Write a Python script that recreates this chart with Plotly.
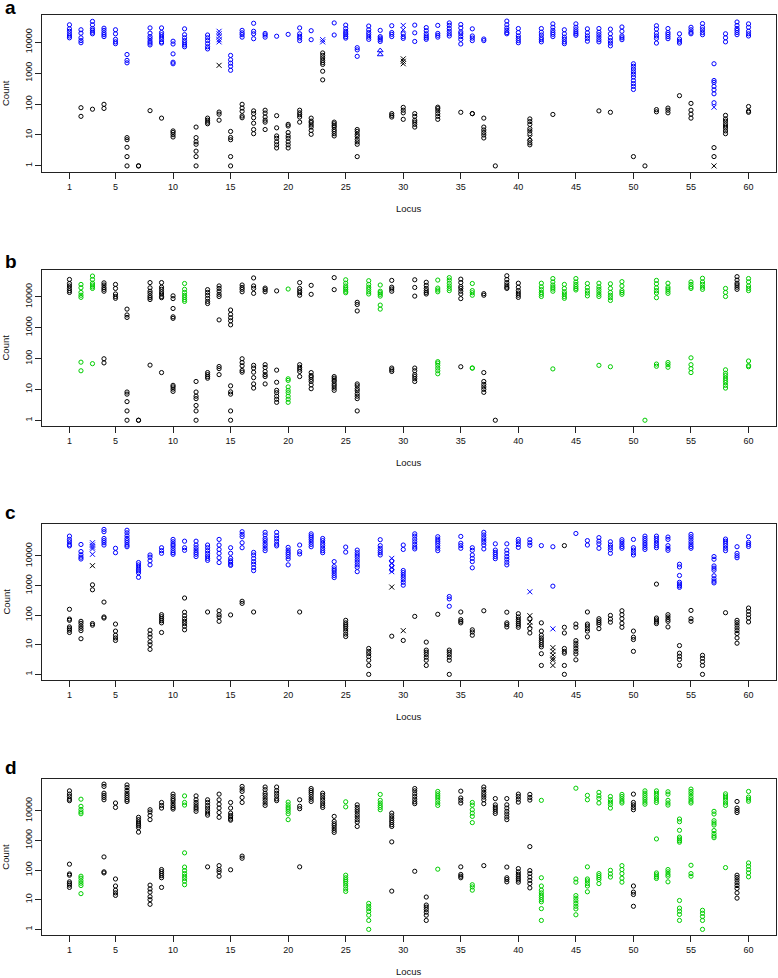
import plotly.graph_objects as go

W, H = 778, 978
BLUE = "#0000FF"
GREEN = "#00CD00"
BLACK = "#000000"
FONT = "Liberation Sans, Arial, Helvetica, sans-serif"

locus_ticks = [1, 5, 10, 15, 20, 25, 30, 35, 40, 45, 50, 55, 60]
count_ticks = [1, 10, 100, 1000, 10000]
count_tick_labels = ["1", "10", "100", "1000", "10000"]
panel_letters = ["a", "b", "c", "d"]

# ---------------- panel a ----------------
a_blue_circle = {
    1: [36300, 26900, 22400, 18600, 15800, 13800],
    2: [25100, 19500, 13800, 11200, 9550],
    3: [46800, 36300, 27500, 24000, 20900, 18600],
    4: [28200, 24000, 20000, 17400, 15100],
    5: [25100, 18600, 12300, 10200, 8910],
    6: [3980, 2570, 2140],
    8: [28800, 19500, 15100, 12900, 10700, 9330, 8130],
    9: [28800, 20400, 17400, 14500, 12300, 10200, 9330],
    10: [10700, 8710, 4170, 2240, 2000],
    11: [26900, 17400, 13800, 11200, 9550, 8130, 7080],
    13: [17000, 13800, 11200, 8910, 7080, 6030],
    15: [3720, 2690, 2090, 1660, 1230],
    16: [24000, 20000, 17400, 14500],
    17: [40700, 22400, 18600, 12900],
    18: [19100, 17000, 14500],
    19: [15500],
    20: [17800],
    21: [28800, 18600, 15500, 13500, 11200],
    22: [23400, 12000],
    24: [41700, 17000],
    25: [35500, 27500, 22400, 19500, 17400, 15100, 13500],
    26: [6610, 5620, 3470],
    27: [33100, 25100, 20400, 17400, 14500, 12300],
    28: [24000, 15100, 13500, 12000, 10500],
    29: [33900, 20400, 17800, 15100],
    30: [18600, 15100, 13200],
    31: [35500, 20000, 10500],
    32: [29500, 23400, 18600, 15800, 13800, 12300],
    33: [34700, 19100, 16600, 14500],
    34: [41700, 34700, 27500, 22400, 18600, 15800],
    35: [37200, 28800, 21400, 18600, 15100, 12300, 8710],
    36: [26900, 15800, 13500, 11200],
    37: [12600, 11200],
    39: [47900, 36300, 28800, 24000, 20400, 18600],
    40: [27500, 20400, 15800, 13200, 11200, 9550],
    42: [27500, 20900, 17000, 13800, 12000, 10200],
    43: [38900, 30200, 24000, 20400, 17800, 15100],
    44: [25100, 18600, 14500, 12300, 10200, 8910],
    45: [38900, 30200, 25100, 21400, 18600, 16600],
    46: [26900, 20000, 15800, 13200, 10700],
    47: [27500, 20900, 17400, 14500, 12000, 10200],
    48: [26300, 18600, 13800, 11200, 9330, 7590],
    49: [30900, 22400, 15800, 13800, 12000],
    50: [2000, 1660, 1350, 1100, 912, 741, 575, 457, 372, 295],
    52: [33900, 26300, 19500, 15800, 13200, 9330],
    53: [27500, 20400, 17800, 15100, 12900],
    54: [18600, 12600, 10700, 9330],
    55: [30200, 25100, 20900, 18600],
    56: [39800, 30200, 25100, 20400, 17400],
    57: [2000, 575, 501, 372, 288, 214, 110],
    58: [18600, 13800, 10200],
    59: [44700, 34700, 27500, 24000, 20400, 17400],
    60: [38900, 30200, 22400, 18600, 15800],
}
a_blue_x = {14: [22400, 18600, 15100, 12000, 10200], 23: [12000, 10200],
            30: [34700, 25100], 57: [79]}
a_blue_triangle = {28: [5370, 3980]}
a_black_circle = {
    2: [76, 40], 3: [68], 4: [98, 72], 6: [8.2, 7, 4, 2, 1], 7: [1, 1], 8: [61], 9: [35],
    10: [13.5, 12, 10.2, 8.6], 12: [18, 8.2, 6, 5, 3, 2, 1], 13: [35, 30, 26, 23],
    14: [55, 47, 30], 15: [13, 8.3, 7, 2, 1], 16: [98, 74, 58, 41, 36],
    17: [60, 49, 36, 24, 15, 11], 18: [63, 51, 38, 30, 26, 15],
    19: [42, 17, 9.3, 7.8, 6, 4.8, 3.8], 20: [22, 19.5, 12, 9.3, 7.8, 6, 4.8, 3.8],
    21: [63, 52, 45, 38, 26], 22: [35, 28, 25, 21, 18, 14, 10.5],
    23: [4470, 3720, 3090, 2570, 2190, 1910, 1150, 603],
    24: [26, 23, 20, 18, 15, 13, 11, 9.3], 26: [15, 13, 10.5, 9, 7.2, 6, 5, 2],
    29: [49, 43, 38], 30: [78, 63, 52, 32], 31: [49, 40, 30, 26, 22, 18],
    33: [79, 71, 60, 49, 40, 32], 35: [54], 36: [49, 49], 37: [35, 18, 14.5, 12, 10, 8],
    38: [1], 41: [33, 27, 22, 16, 13.5, 11, 6.8, 5.6, 4.8], 43: [46], 47: [60], 48: [54],
    50: [2], 51: [1], 52: [66, 56], 53: [74, 63, 52], 54: [186], 55: [105, 63, 47, 35],
    57: [3.9, 2], 58: [43, 33, 28, 23, 19.5, 16.6, 13.5, 11], 60: [83, 59, 54],
}
a_black_x = {14: [1780], 30: [2880, 2400, 2000], 41: [8], 57: [1]}

# ---------------- panel b (same samples as a, recoloured) ----------------
b_green_loci = [2, 3, 11, 20, 25, 27, 28, 33, 34, 36, 42, 43, 44, 45, 46, 47, 48, 49,
                51, 52, 53, 55, 56, 58, 60]
b_omitted_loci = [23, 30, 41, 50, 54, 57]

# ---------------- panel c ----------------
c_blue_circle = {
    1: [46800, 36300, 30200, 24500, 21900],
    2: [24500, 14100, 11000, 9100, 7900],
    4: [79000, 66000, 39000, 33000, 28000, 23400],
    5: [18200, 12900],
    6: [74000, 60500, 48200, 39000, 33000, 28000, 23400, 20500],
    7: [6000, 5000, 4150, 3550, 3150, 2700, 1900],
    8: [10800, 9100, 6900, 5000],
    9: [19000, 15100, 12300],
    10: [36300, 30200, 25100, 21900, 18200, 15100, 12900, 11400],
    11: [31600, 19000, 15500],
    12: [31600, 23400, 19000, 15800, 13200, 11400, 9550],
    13: [23400, 19000, 15100, 12300, 10000, 8300, 7100],
    14: [36300, 23400, 16600, 12300, 8700, 6000],
    15: [19000, 12300, 8300, 6900, 6150, 5250, 4800],
    16: [66000, 53700, 44700, 28000, 19000],
    17: [13200, 10800, 8300, 6450, 5250, 4050, 3200],
    18: [63000, 51300, 39000, 33000, 26900, 22400, 18200, 15100],
    19: [63000, 48000, 39000, 31600, 25100, 21900],
    20: [19500, 15800, 13200, 11400, 9550, 7900, 5000],
    21: [23400, 14100, 11700],
    22: [56000, 48000, 41600, 35500, 29500, 24500, 20500],
    23: [39000, 33000, 26900, 22400, 18200, 15100, 12900],
    24: [6450, 4370, 3650, 3150, 2630, 2190, 1860],
    25: [20000, 13500],
    26: [15800, 12900, 10800, 9100, 7400, 6150, 5000, 4150, 2950],
    28: [35500, 22400, 18200, 15100, 12900, 10800],
    29: [6760, 4700, 3390],
    30: [23400, 16600, 3230, 2750, 2290, 1910, 1590, 1290, 1030],
    31: [56000, 46800, 37200, 30200, 24500, 20000, 17300],
    33: [44700, 37200, 31600, 26900, 22400, 18200, 15100],
    34: [427, 355, 200],
    35: [45700, 26900, 22400, 18200],
    36: [19000, 15500, 10800, 8300, 6450, 3980],
    37: [63000, 51300, 41600, 34700, 28800, 23400, 17300],
    38: [25700, 15800, 13200, 11400, 9550, 8100],
    39: [25700, 15800, 12300, 9550, 7760, 6150, 5000],
    40: [36300, 30200, 24500, 19500],
    41: [35500, 28000, 22900],
    42: [22400],
    43: [20500, 955],
    45: [57500],
    46: [33000, 23400],
    47: [41600, 31600, 25700, 18200],
    48: [30200, 23400, 19500, 16200, 12300],
    49: [35500, 30200, 25100, 20900, 18200],
    50: [36300, 19000, 15800, 12900, 10800],
    51: [46800, 39000, 33000, 27500, 23400, 19500, 16600],
    52: [46800, 39000, 33000, 26900, 22400, 19000],
    53: [43600, 36300, 22400, 18200, 15500],
    54: [5250, 4270, 2190, 1290, 1120, 980, 870],
    55: [53700, 44700, 37200, 30200, 25100, 20900, 18200],
    57: [9550, 7760, 4600, 3870, 3300, 2140, 1700, 1410, 1230],
    58: [37200, 31600, 26900, 22400, 18200, 15100],
    59: [20500, 12300, 10200, 8700],
    60: [44700, 28800, 24500, 20900],
}
c_blue_x = {3: [28000, 23400, 20000, 17300, 11400], 29: [8300, 5620, 4050, 2950],
            41: [617], 43: [34.5]}
c_black_circle = {
    1: [158, 74, 67, 40, 35, 31, 26], 2: [62, 53, 43, 36, 30, 16],
    3: [1060, 720, 52, 46], 4: [277, 87, 80], 5: [50, 29, 21, 17, 14],
    8: [31, 23, 18, 12.6, 10, 7], 9: [104, 89, 76, 65, 55, 26],
    11: [380, 126, 96, 76, 62, 52, 42, 32], 13: [128], 14: [141, 104, 87, 62],
    15: [102], 16: [295, 250], 17: [128], 21: [128],
    25: [67, 55, 47, 41, 35, 29, 23, 19], 27: [7.5, 6, 5, 4, 3, 2, 1], 29: [19.5],
    30: [14], 31: [91], 32: [12.3, 6.6, 5.6, 4.7, 3.8, 3, 2], 33: [107],
    34: [6.6, 5.6, 4.7, 3.8, 3, 1], 35: [128, 71, 62, 55], 36: [32, 27, 21],
    37: [141], 39: [126, 55, 48, 40], 40: [112, 87, 72, 62, 53, 46, 39],
    41: [76, 35, 25], 42: [55, 29, 21, 17, 14, 12, 10, 8.5, 5, 2],
    44: [22400, 39, 25, 7.5, 6, 5.2, 2, 1],
    45: [50, 39, 13.8, 11.3, 9.2, 7.5, 6, 4.9, 3.1],
    46: [128, 50, 43, 35, 29, 18.5], 47: [76, 65, 56, 48, 35], 48: [98, 74, 58],
    49: [141, 104, 76, 53, 39], 50: [29, 18, 15, 6], 52: [1120, 80, 69, 59, 52],
    53: [104, 87, 72, 62, 40], 54: [9.4, 5.2, 4.1, 3.2, 2], 55: [145, 76, 62],
    56: [4.4, 3.5, 2.7, 2, 1], 58: [121], 59: [67, 56, 46, 37, 30, 24, 17, 11.3],
    60: [174, 135, 104, 80, 59],
}
c_black_x = {3: [4700], 29: [890], 30: [30], 41: [96, 58, 45], 43: [8, 6, 4.5, 3.5, 3, 2]}

# ---------------- panel d (same samples as c, recoloured) ----------------
d_green_loci = [2, 11, 20, 25, 27, 28, 33, 36, 42, 45, 46, 47, 48, 49, 51, 52, 53, 54,
                55, 56, 57, 58, 60]
d_omitted_loci = [3, 17, 30, 34, 43, 44]

# ---------------- layout geometry (pixels) ----------------
panels = [
    # (box top px, box bottom px, log10 y range, letter baseline px)
    (15.3, 171.7, [-0.187, 4.867], 14.5),
    (270.0, 426.0, [-0.187, 4.867], 268.0),
    (524.0, 680.0, [-0.19, 5.08], 519.0),
    (779.0, 935.3, [-0.2, 5.07], 774.0),
]
X_LEFT, X_RIGHT = 42.3, 775.7
X_RANGE = [-1.36, 62.36]


def flat(series, select=lambda l: True):
    xs, ys = [], []
    for locus, counts in series.items():
        if select(locus):
            xs += [locus] * len(counts)
            ys += counts
    return xs, ys


fig = go.Figure()


def add(series_list, color, symbol, size, axis_idx, select=lambda l: True):
    xs, ys = [], []
    for s in series_list:
        x, y = flat(s, select)
        xs += x
        ys += y
    suf = "" if axis_idx == 1 else str(axis_idx)
    fig.add_trace(go.Scatter(
        x=xs, y=ys, mode="markers", xaxis="x" + suf, yaxis="y" + suf,
        showlegend=False, hoverinfo="skip",
        marker=dict(symbol=symbol, size=size, color=color, line=dict(color=color, width=1)),
    ))


# panel a
add([a_blue_circle], BLUE, "circle-open", 4.2, 1)
add([a_blue_x], BLUE, "x-thin-open", 5, 1)
add([a_blue_triangle], BLUE, "triangle-up-open", 5, 1)
add([a_black_circle], BLACK, "circle-open", 4.2, 1)
add([a_black_x], BLACK, "x-thin-open", 5, 1)

# panel b
a_all = [a_blue_circle, a_blue_x, a_blue_triangle, a_black_circle, a_black_x]
add(a_all, BLACK, "circle-open", 4.2, 2,
    lambda l: l not in b_omitted_loci and l not in b_green_loci)
add(a_all, GREEN, "circle-open", 4.2, 2,
    lambda l: l not in b_omitted_loci and l in b_green_loci)

# panel c
add([c_blue_circle], BLUE, "circle-open", 4.2, 3)
add([c_blue_x], BLUE, "x-thin-open", 5, 3)
add([c_black_circle], BLACK, "circle-open", 4.2, 3)
add([c_black_x], BLACK, "x-thin-open", 5, 3)

# panel d
c_all = [c_blue_circle, c_blue_x, c_black_circle, c_black_x]
add(c_all, BLACK, "circle-open", 4.2, 4,
    lambda l: l not in d_omitted_loci and l not in d_green_loci)
add(c_all, GREEN, "circle-open", 4.2, 4,
    lambda l: l not in d_omitted_loci and l in d_green_loci)

layout = dict(
    width=W, height=H, autosize=False,
    margin=dict(l=0, r=0, t=0, b=0),
    paper_bgcolor="white", plot_bgcolor="white",
    font=dict(family=FONT, size=9, color="#111111"),
    annotations=[],
)

axis_common = dict(
    showline=True, mirror=True, linecolor="#222222", linewidth=1,
    ticks="outside", ticklen=6, tickwidth=1, tickcolor="#222222",
    showgrid=False, zeroline=False,
    tickfont=dict(family=FONT, size=9, color="#111111"),
)

for i, (top, bot, yr, base) in enumerate(panels):
    suf = "" if i == 0 else str(i + 1)
    layout["xaxis" + suf] = dict(
        axis_common, domain=[X_LEFT / W, X_RIGHT / W], range=X_RANGE,
        tickmode="array", tickvals=locus_ticks, ticktext=[str(t) for t in locus_ticks],
        anchor="y" + suf,
    )
    layout["yaxis" + suf] = dict(
        axis_common, domain=[1 - bot / H, 1 - top / H], type="log", range=yr,
        tickmode="array", tickvals=count_ticks, ticktext=count_tick_labels,
        tickangle=-90, anchor="x" + suf,
    )
    layout["annotations"] += [
        dict(text="<b>%s</b>" % panel_letters[i], xref="paper", yref="paper",
             x=3 / W, y=1 - (base - 7) / H, xanchor="left", yanchor="middle",
             showarrow=False, font=dict(family=FONT, size=19, color="black")),
        dict(text="Count", xref="paper", yref="paper", x=5.5 / W, y=1 - (top + bot) / 2 / H,
             xanchor="center", yanchor="middle", textangle=-90, showarrow=False,
             font=dict(family=FONT, size=9.5, color="#111111")),
        dict(text="Locus", xref="paper", yref="paper", x=(X_LEFT + X_RIGHT) / 2 / W,
             y=1 - (bot + 36.5) / H, xanchor="center", yanchor="middle", showarrow=False,
             font=dict(family=FONT, size=9.5, color="#111111")),
    ]

fig.update_layout(**layout)
# remove the browser's default 8px page margin so the figure sits at the window origin
fig.write_html("out.html", config={"displayModeBar": False},
               post_script="document.body.style.margin='0px';")
